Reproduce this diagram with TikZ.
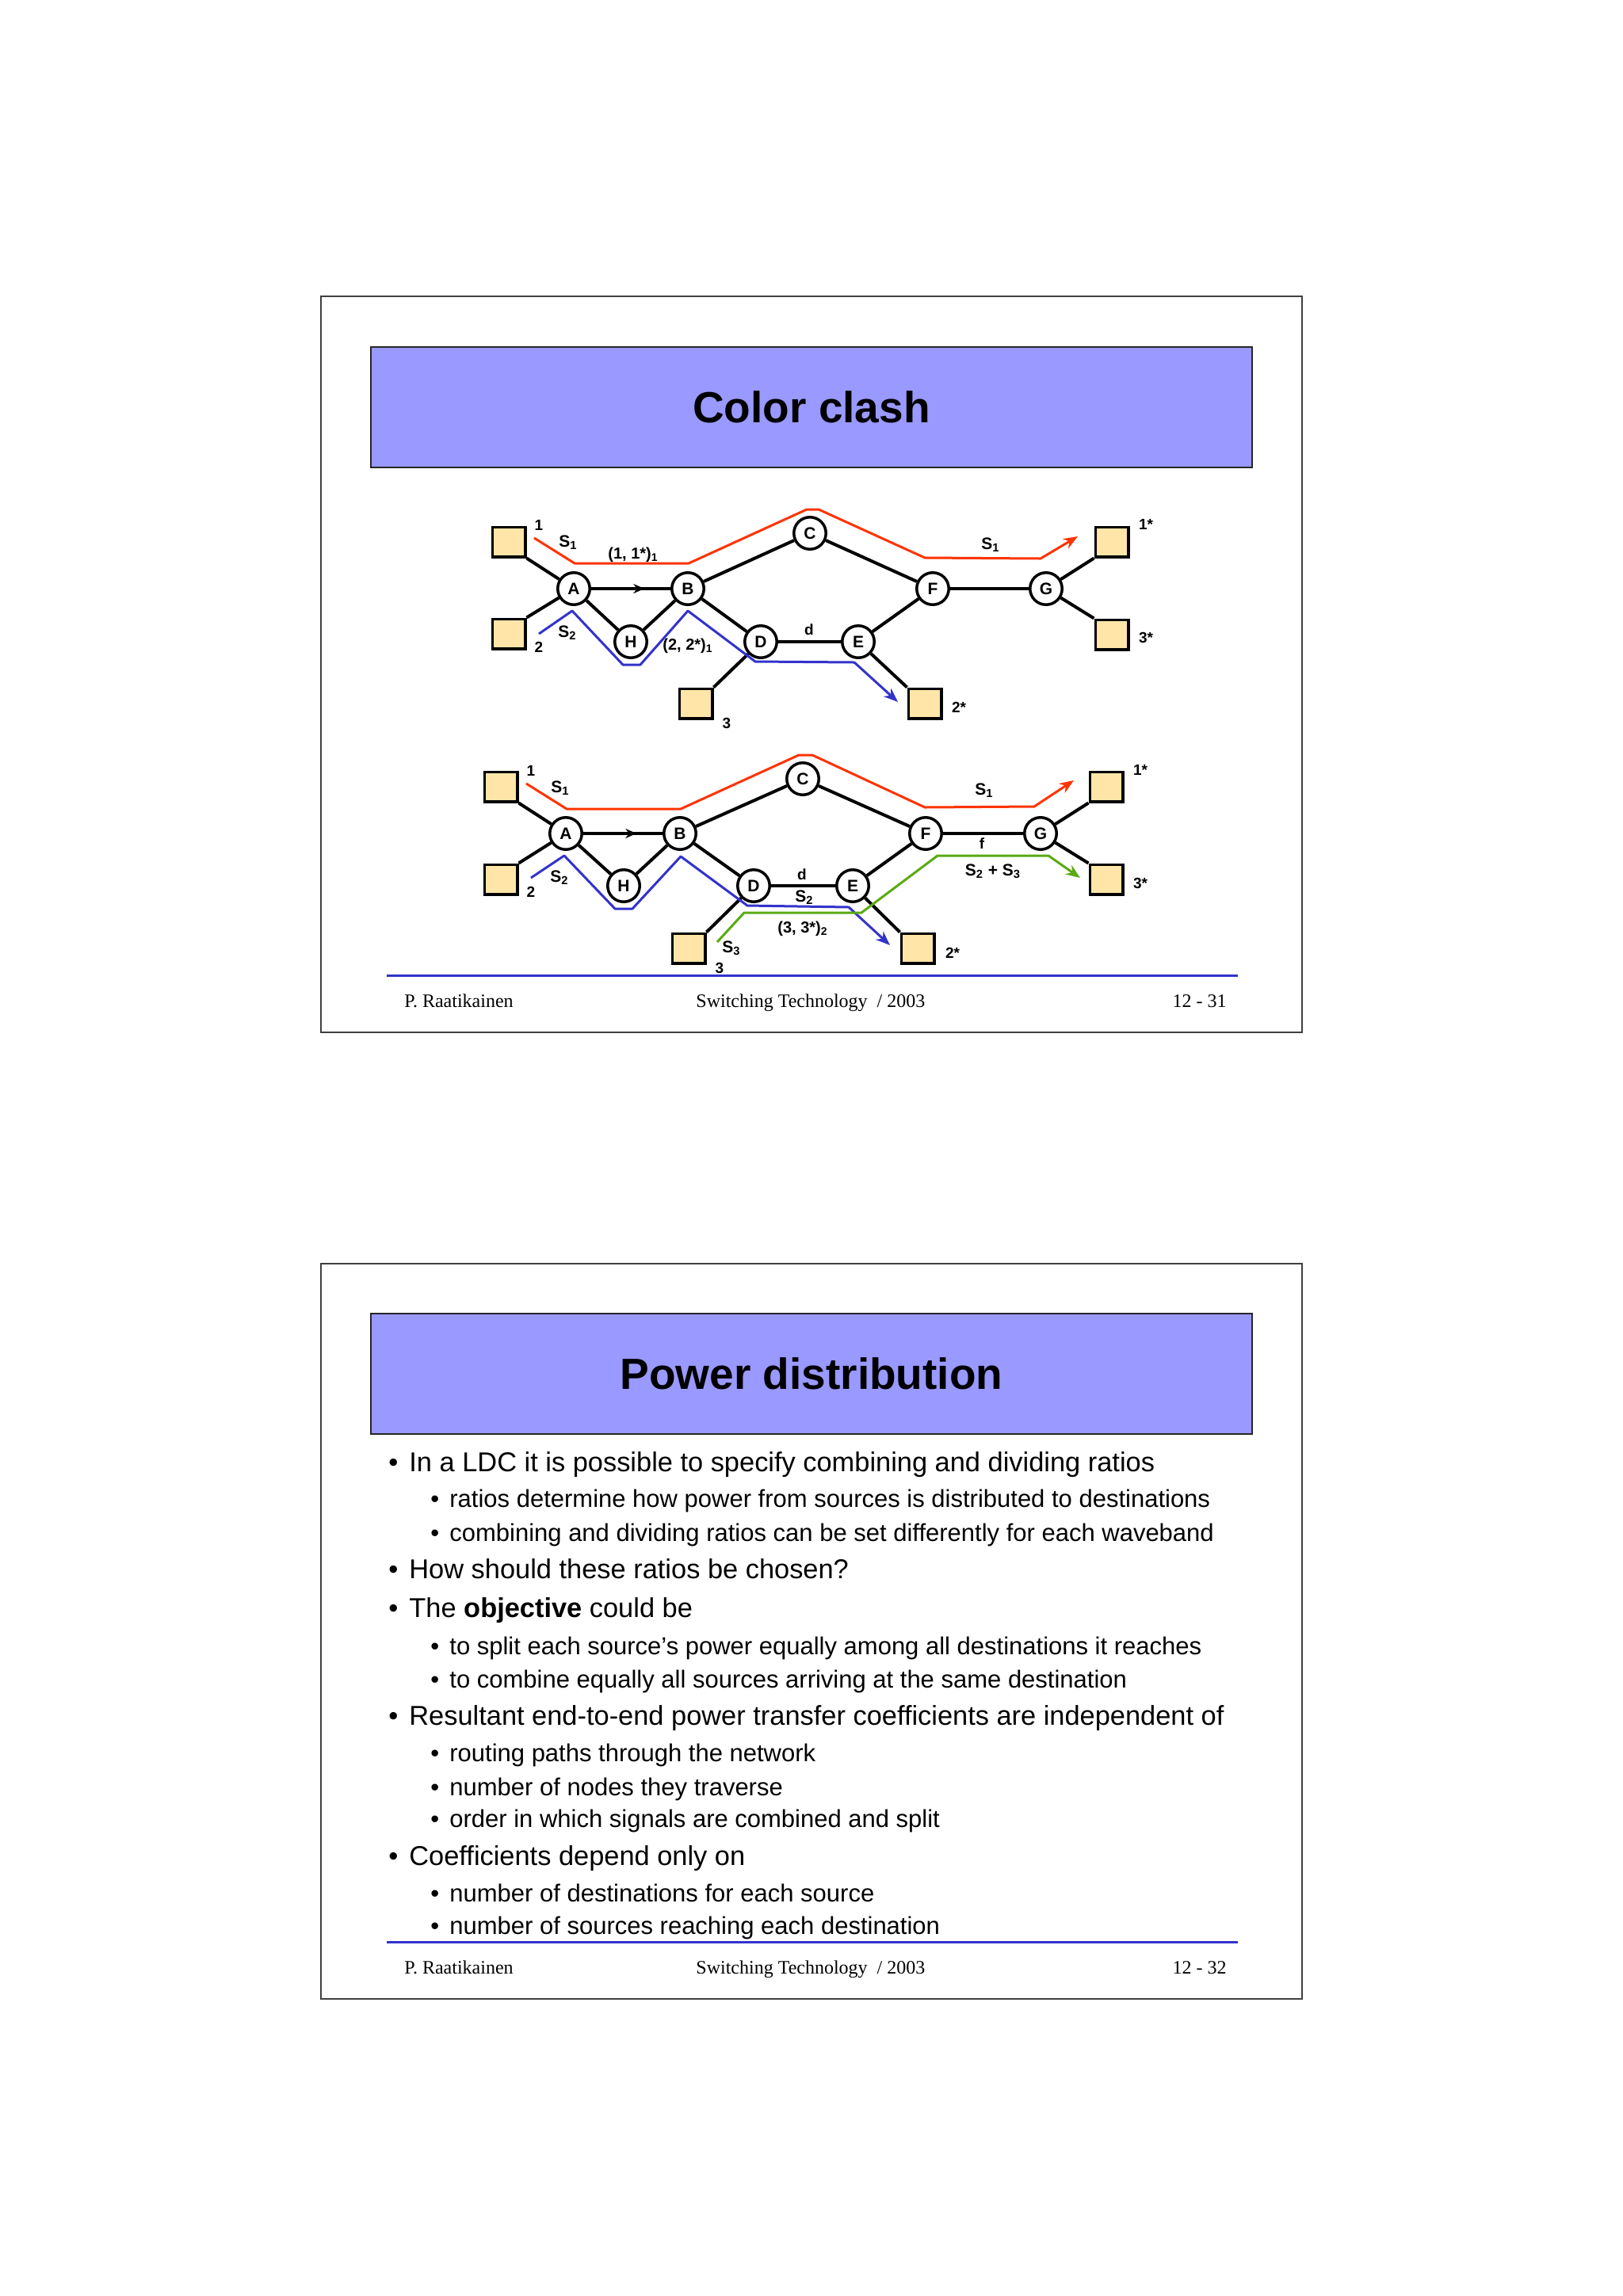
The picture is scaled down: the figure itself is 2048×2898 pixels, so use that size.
\documentclass[tikz,border=0pt]{standalone}
\usepackage{fontspec}
\setmainfont{Liberation Sans}
\newfontfamily\footfont{Liberation Serif}
\usetikzlibrary{arrows.meta,calc}
\definecolor{redpath}{RGB}{255,51,0}
\definecolor{bluepath}{RGB}{51,51,204}
\definecolor{greenpath}{RGB}{90,170,20}
\definecolor{termfill}{RGB}{255,230,168}
\definecolor{titlefill}{RGB}{153,153,255}
\definecolor{framegray}{RGB}{64,64,64}
\definecolor{footblue}{RGB}{51,51,204}
\tikzset{
  nd/.style={circle, draw, line width=1.75pt, fill=white, minimum size=20.25pt, inner sep=0pt,
    font=\fontsize{10.5}{12}\selectfont\bfseries},
  term/.style={rectangle, draw, line width=1.75pt, fill=termfill, minimum width=20.75pt,
    minimum height=18.75pt, inner sep=0pt},
  edge/.style={line width=2pt},
  lbl/.style={font=\fontsize{9.5}{11}\selectfont\bfseries, inner sep=0pt},
  plbl/.style={font=\fontsize{10}{12}\selectfont\bfseries, inner sep=0pt},
  slbl/.style={font=\fontsize{10.5}{12}\selectfont\bfseries, inner sep=0pt},
  dlbl/.style={font=\fontsize{9.5}{11}\selectfont\bfseries, inner sep=0pt},
  flow/.style={line width=1.5pt, line join=round},
  flowtip/.style={-{Stealth[length=9pt,width=7pt]}},
  frame/.style={draw=framegray, line width=1.25pt},
  titlebox/.style={draw=black!85, line width=1.25pt, fill=titlefill},
  titletext/.style={font=\fontsize{27.5}{32}\selectfont\bfseries, inner sep=0pt},
  mainl/.style={anchor=base west, inner sep=0pt, font=\fontsize{17.2}{20}\selectfont},
  subl/.style={anchor=base west, inner sep=0pt, font=\fontsize{15.5}{18}\selectfont},
  footl/.style={inner sep=0pt, font=\footfont\fontsize{12}{14}\selectfont},
  footline/.style={draw=footblue, line width=1.5pt},
}
\begin{document}
\begin{tikzpicture}[x=0.5pt,y=-0.5pt]
\useasboundingbox (0,0) rectangle (2048,2898);
\fill[white] (0,0) rectangle (2048,2898);

%% ================= Slide 1 =================
\draw[frame] (405,374) rectangle (1643,1303);
\draw[titlebox] (468,438) rectangle (1580,590);
\node[titletext] (title1) at (1024,514) {Color clash};

%% --- top network ---
\node[nd] (tA) at (724,743) {A};
\node[nd] (tB) at (868,743) {B};
\node[nd] (tC) at (1022,673) {C};
\node[nd] (tD) at (960,810) {D};
\node[nd] (tE) at (1083,810) {E};
\node[nd] (tF) at (1177,743) {F};
\node[nd] (tG) at (1320,743) {G};
\node[nd] (tH) at (796,810) {H};
\node[term] (t1) at (642,684) {};
\node[term] (t2) at (642,800) {};
\node[term] (t3) at (878,888) {};
\node[term] (t1s) at (1403,684) {};
\node[term] (t3s) at (1403,801) {};
\node[term] (t2s) at (1167,888) {};

\draw[edge] (t1.south east) -- (tA);
\draw[edge] (t2.north east) -- (tA);
\draw[edge] (tA) -- (tB);
\draw[edge,-{Stealth[length=7pt,width=6pt]}] (tA) -- ($(tA)!0.62!(tB)$);
\draw[edge] (tA) -- (tH);
\draw[edge] (tH) -- (tB);
\draw[edge] (tB) -- (tC);
\draw[edge] (tB) -- (tD);
\draw[edge] (tC) -- (tF);
\draw[edge] (tD) -- (tE);
\draw[edge] (tE) -- (tF);
\draw[edge] (tF) -- (tG);
\draw[edge] (tG) -- (t1s.south west);
\draw[edge] (tG) -- (t3s.north west);
\draw[edge] (tD) -- (t3.north east);
\draw[edge] (tE) -- (t2s.north west);

\node[lbl] (tl1) at (680,663) {1};
\node[slbl] (tls1) at (717,685) {S\textsubscript{1}};
\node[plbl] (tlp1) at (799,700) {(1, 1*)\textsubscript{1}};
\node[lbl] (tl2) at (680,817) {2};
\node[slbl] (tls2) at (716,799) {S\textsubscript{2}};
\node[plbl] (tlp2) at (868,815) {(2, 2*)\textsubscript{1}};
\node[dlbl] (tld) at (1021,795) {d};
\node[lbl] (tl3) at (917,913) {3};
\node[lbl] (tl1s) at (1446,662) {1*};
\node[lbl] (tl3s) at (1446,805) {3*};
\node[lbl] (tl2s) at (1210,893) {2*};
\node[slbl] (tls1b) at (1250,688) {S\textsubscript{1}};

\draw[flow,draw=redpath,flowtip] (674,679) -- (725,711) -- (869,711) -- (1018,643) -- (1033,643)
  -- (1167,704) -- (1313,705) -- (1360,677);
\draw[flow,draw=bluepath,flowtip] (680,800) -- (722,771) -- (786,839) -- (808,839) -- (868,771)
  -- (953,835) -- (1078,836) -- (1133,886);

%% --- bottom network ---
\node[nd] (bA) at (714,1052) {A};
\node[nd] (bB) at (858,1052) {B};
\node[nd] (bC) at (1013,983) {C};
\node[nd] (bD) at (951,1118) {D};
\node[nd] (bE) at (1076,1118) {E};
\node[nd] (bF) at (1168,1052) {F};
\node[nd] (bG) at (1313,1052) {G};
\node[nd] (bH) at (787,1118) {H};
\node[term] (b1) at (632,993) {};
\node[term] (b2) at (632,1110) {};
\node[term] (b3) at (869,1197) {};
\node[term] (b1s) at (1396,993) {};
\node[term] (b3s) at (1396,1110) {};
\node[term] (b2s) at (1158,1197) {};

\draw[edge] (b1.south east) -- (bA);
\draw[edge] (b2.north east) -- (bA);
\draw[edge] (bA) -- (bB);
\draw[edge,-{Stealth[length=7pt,width=6pt]}] (bA) -- ($(bA)!0.62!(bB)$);
\draw[edge] (bA) -- (bH);
\draw[edge] (bH) -- (bB);
\draw[edge] (bB) -- (bC);
\draw[edge] (bB) -- (bD);
\draw[edge] (bC) -- (bF);
\draw[edge] (bD) -- (bE);
\draw[edge] (bE) -- (bF);
\draw[edge] (bF) -- (bG);
\draw[edge] (bG) -- (b1s.south west);
\draw[edge] (bG) -- (b3s.north west);
\draw[edge] (bD) -- (b3.north east);
\draw[edge] (bE) -- (b2s.north west);

\node[lbl] (bl1) at (670,973) {1};
\node[slbl] (bls1) at (707,995) {S\textsubscript{1}};
\node[lbl] (bl2) at (670,1126) {2};
\node[slbl] (bls2) at (706,1108) {S\textsubscript{2}};
\node[dlbl] (bld) at (1012,1104) {d};
\node[slbl] (bls2b) at (1015,1133) {S\textsubscript{2}};
\node[plbl] (blp3) at (1013,1172) {(3, 3*)\textsubscript{2}};
\node[slbl] (bls3) at (923,1197) {S\textsubscript{3}};
\node[lbl] (bl3) at (908,1222) {3};
\node[lbl] (bl1s) at (1439,972) {1*};
\node[lbl] (bl3s) at (1439,1115) {3*};
\node[lbl] (bl2s) at (1202,1203) {2*};
\node[slbl] (bls1b) at (1242,998) {S\textsubscript{1}};
\node[dlbl] (blf) at (1239,1065) {f};
\node[slbl] (bls23) at (1253,1100) {S\textsubscript{2} + S\textsubscript{3}};

\draw[flow,draw=redpath,flowtip] (664,989) -- (715,1021) -- (859,1021) -- (1008,953) -- (1025,953)
  -- (1167,1019) -- (1305,1018) -- (1355,985);
\draw[flow,draw=bluepath,flowtip] (670,1108) -- (712,1080) -- (776,1147) -- (798,1147) -- (859,1081)
  -- (943,1143) -- (1071,1145) -- (1123,1193);
\draw[flow,draw=greenpath,flowtip] (905,1189) -- (939,1152) -- (1087,1152) -- (1183,1080)
  -- (1323,1080) -- (1363,1108);

\draw[footline] (488,1231) -- (1562,1231);
\node[footl,anchor=base west] (f1a) at (510,1271) {P. Raatikainen};
\node[footl,anchor=base west] (f1b) at (878,1271) {Switching Technology~~/ 2003};
\node[footl,anchor=base east] (f1c) at (1548,1271) {12 - 31};

%% ================= Slide 2 =================
\draw[frame] (405,1595) rectangle (1643,2523);
\draw[titlebox] (468,1658) rectangle (1580,1810);
\node[titletext] (title2) at (1024,1734) {Power distribution};

\node[mainl] (m1b) at (490,1857) {\textbullet};
\node[mainl] (m1) at (516,1857) {In a LDC it is possible to specify combining and dividing ratios};
\node[subl] (s1b) at (543,1902) {\textbullet};
\node[subl] (s1) at (567,1902) {ratios determine how power from sources is distributed to destinations};
\node[subl] (s2b) at (543,1945) {\textbullet};
\node[subl] (s2) at (567,1945) {combining and dividing ratios can be set differently for each waveband};
\node[mainl] (m2b) at (490,1992) {\textbullet};
\node[mainl] (m2) at (516,1992) {How should these ratios be chosen?};
\node[mainl] (m3b) at (490,2041) {\textbullet};
\node[mainl] (m3) at (516,2041) {The \textbf{objective} could be};
\node[subl] (s3b) at (543,2088) {\textbullet};
\node[subl] (s3) at (567,2088) {to split each source’s power equally among all destinations it reaches};
\node[subl] (s4b) at (543,2130) {\textbullet};
\node[subl] (s4) at (567,2130) {to combine equally all sources arriving at the same destination};
\node[mainl] (m4b) at (490,2177) {\textbullet};
\node[mainl] (m4) at (516,2177) {Resultant end-to-end power transfer coefficients are independent of};
\node[subl] (s5b) at (543,2223) {\textbullet};
\node[subl] (s5) at (567,2223) {routing paths through the network};
\node[subl] (s6b) at (543,2266) {\textbullet};
\node[subl] (s6) at (567,2266) {number of nodes they traverse};
\node[subl] (s7b) at (543,2306) {\textbullet};
\node[subl] (s7) at (567,2306) {order in which signals are combined and split};
\node[mainl] (m5b) at (490,2354) {\textbullet};
\node[mainl] (m5) at (516,2354) {Coefficients depend only on};
\node[subl] (s8b) at (543,2400) {\textbullet};
\node[subl] (s8) at (567,2400) {number of destinations for each source};
\node[subl] (s9b) at (543,2441) {\textbullet};
\node[subl] (s9) at (567,2441) {number of sources reaching each destination};

\draw[footline] (488,2451) -- (1562,2451);
\node[footl,anchor=base west] (f2a) at (510,2491) {P. Raatikainen};
\node[footl,anchor=base west] (f2b) at (878,2491) {Switching Technology~~/ 2003};
\node[footl,anchor=base east] (f2c) at (1548,2491) {12 - 32};
\end{tikzpicture}
\end{document}
